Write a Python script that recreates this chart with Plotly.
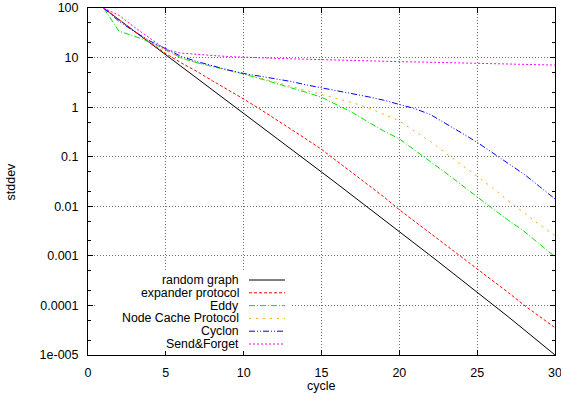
import plotly.graph_objects as go

# ---------------- data ----------------
cycles = list(range(1, 31))

random_graph = [100, 58.2, 33.9, 19.7, 11.4, 6.64, 3.86, 2.24, 1.30, 0.759,
                0.440, 0.254, 0.147, 0.0849, 0.0491, 0.0284, 0.0164, 0.00946, 0.00545, 0.00313,
                0.00179, 0.00101, 0.000575, 0.000327, 0.000186, 0.000105, 5.89e-5, 3.27e-5, 1.81e-5, 1.0e-5]

expander_protocol = [100, 57.5, 33.9, 19.95, 12.0, 7.76, 5.25, 3.39, 2.24, 1.46,
                     0.933, 0.589, 0.372, 0.229, 0.141, 0.0813, 0.0468, 0.0269, 0.0155, 0.00851,
                     0.0049, 0.00288, 0.00166, 0.000977, 0.000562, 0.000324, 0.000182, 0.000102, 6.03e-5, 3.55e-5]

eddy = [100, 33.9, 26.9, 20.4, 14.5, 9.77, 7.85, 6.61, 5.56, 4.68,
        3.80, 3.09, 2.45, 2.0, 1.585, 1.12, 0.776, 0.501, 0.331, 0.229,
        0.132, 0.0794, 0.0468, 0.0269, 0.0151, 0.00891, 0.00525, 0.00316, 0.00174, 0.000955]

node_cache = [100, 57.5, 33.1, 20.9, 13.8, 9.77, 7.85, 6.61, 5.56, 4.68,
              3.89, 3.24, 2.63, 2.19, 1.78, 1.48, 1.23, 0.977, 0.724, 0.525,
              0.324, 0.204, 0.117, 0.0676, 0.0398, 0.0234, 0.0129, 0.00741, 0.00427, 0.00257]

cyclon = [100, 53.7, 33.1, 21.4, 15.1, 10.5, 8.32, 6.76, 5.62, 4.79,
          4.27, 3.80, 3.31, 2.82, 2.45, 2.14, 1.91, 1.62, 1.38, 1.12,
          0.933, 0.708, 0.468, 0.302, 0.195, 0.12, 0.0741, 0.0447, 0.0251, 0.0141]

send_forget = [100, 70.8, 40.7, 24.0, 14.5, 12.3, 11.5, 11.0, 10.5, 10.1,
               9.89, 9.66, 9.44, 9.23, 9.06, 8.91, 8.75, 8.59, 8.43, 8.28,
               8.18, 8.07, 7.96, 7.85, 7.74, 7.60, 7.46, 7.33, 7.19, 7.06]

series_names = ["random graph", "expander protocol", "Eddy",
                "Node Cache Protocol", "Cyclon", "Send&Forget"]
series_values = [random_graph, expander_protocol, eddy, node_cache, cyclon, send_forget]

x_ticks = [0, 5, 10, 15, 20, 25, 30]
y_ticks = [1e-5, 1e-4, 1e-3, 1e-2, 1e-1, 1, 10, 100]
y_ticktext = ["1e-005", "0.0001", "0.001", "0.01", "0.1", "1", "10", "100"]
y_minor = [m * 10 ** e for e in range(-5, 2) for m in (2, 5)]

# ---------------- styles ----------------
colors = ["#000000", "#ff0000", "#00e000", "#ffa500", "#0000ff", "#ff00ff"]
dashes = ["solid", "3px,2px", "6px,2px,1px,2px", "2px,5px",
          "6px,2px,1px,2px,1px,2px", "2px,2px"]

FONT = "Liberation Sans, Arial, Helvetica, sans-serif"
W, H = 561, 397
L, R, T, B = 88, 6, 8, 42
PW, PH = W - L - R, H - T - B


def px_x(p):
    return (p - L) / PW


def px_y(p):
    return (H - B - p) / PH


fig = go.Figure()
for name, vals, c, d in zip(series_names, series_values, colors, dashes):
    fig.add_trace(go.Scatter(x=cycles, y=vals, mode="lines", name=name,
                             line=dict(color=c, width=1, dash=d),
                             showlegend=False, hoverinfo="skip"))

# gnuplot-style key: opaque box, right-aligned text, sample line on the right
shapes = [dict(type="rect", xref="paper", yref="paper",
               x0=px_x(97), x1=px_x(292), y0=px_y(351), y1=px_y(272),
               fillcolor="white", line=dict(width=0), layer="above")]
annotations = []
row_y = [280 + 12.8 * i for i in range(6)]
for name, c, d, ry in zip(series_names, colors, dashes, row_y):
    annotations.append(dict(text=name, xref="paper", yref="paper",
                            x=px_x(241), y=px_y(ry), xanchor="right", yanchor="middle",
                            showarrow=False, font=dict(family=FONT, size=12.3, color="black")))
    shapes.append(dict(type="line", xref="paper", yref="paper",
                       x0=px_x(249), x1=px_x(285), y0=px_y(ry), y1=px_y(ry),
                       line=dict(color=c, width=1, dash=d), layer="above"))

annotations.append(dict(text="cycle", xref="paper", yref="paper",
                        x=px_x(321), y=px_y(386), xanchor="center", yanchor="middle",
                        showarrow=False, font=dict(family=FONT, size=12.5, color="black")))
annotations.append(dict(text="stddev", xref="paper", yref="paper",
                        x=px_x(10), y=0.5, xanchor="center", yanchor="middle", textangle=-90,
                        showarrow=False, font=dict(family=FONT, size=12.5, color="black")))

axis_common = dict(showline=True, linecolor="black", linewidth=1, mirror="ticks",
                   ticks="inside", ticklen=5, tickcolor="black", tickwidth=1,
                   showgrid=True, gridcolor="#707070", gridwidth=1, griddash="1px,2px",
                   zeroline=False, automargin=False, ticklabeloverflow="allow",
                   tickfont=dict(family=FONT, size=12.5, color="black"))

fig.update_layout(
    width=W, height=H,
    margin=dict(l=L, r=R, t=T, b=B, pad=0, autoexpand=False),
    paper_bgcolor="white", plot_bgcolor="white",
    xaxis=dict(range=[0, 30], tickmode="array", tickvals=x_ticks,
               ticklabelstandoff=6, **axis_common),
    yaxis=dict(type="log", range=[-5, 2], tickmode="array", tickvals=y_ticks,
               ticktext=y_ticktext, ticklabelstandoff=6,
               minor=dict(tickmode="array", tickvals=y_minor, ticks="inside",
                          ticklen=3, tickcolor="black", showgrid=False),
               **axis_common),
    shapes=shapes, annotations=annotations,
    showlegend=False,
)

fig.write_html("out.html",
               config={"displayModeBar": False, "staticPlot": True},
               post_script="document.body.style.margin='0';document.body.style.overflow='hidden';")
